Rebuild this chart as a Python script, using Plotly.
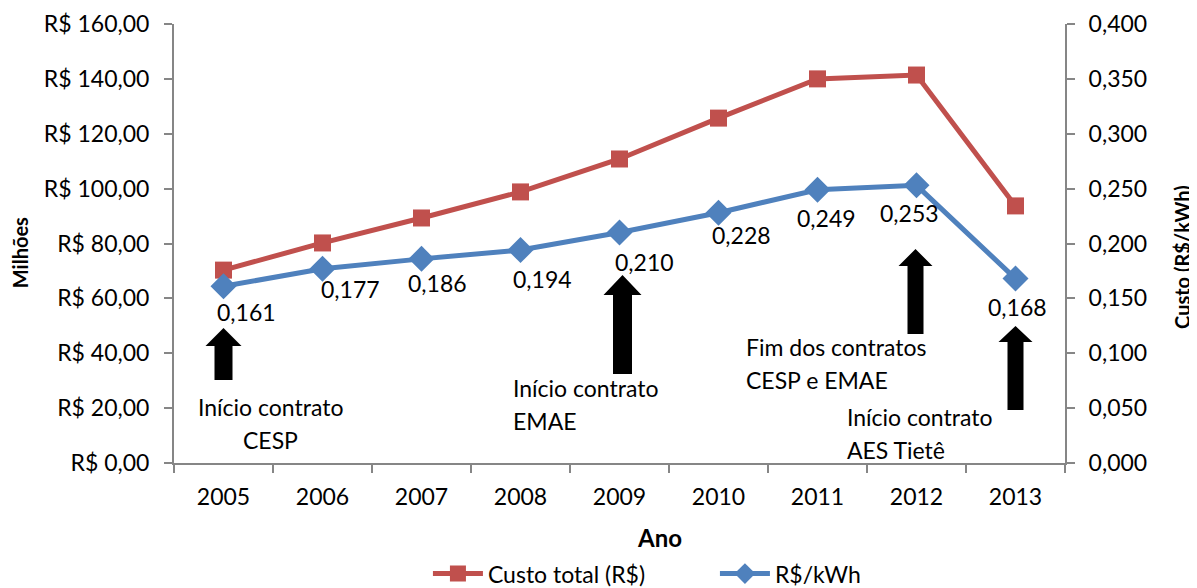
import plotly.graph_objects as go

# ---- data ----
years = ["2005", "2006", "2007", "2008", "2009", "2010", "2011", "2012", "2013"]
custo_total = [70.3, 80.2, 89.3, 98.8, 110.8, 125.7, 140.0, 141.4, 93.7]   # R$ milhões
rs_kwh = [0.161, 0.177, 0.186, 0.194, 0.210, 0.228, 0.249, 0.253, 0.168]    # R$/kWh
left_ticks = [0, 20, 40, 60, 80, 100, 120, 140, 160]
left_ticktext = ["R$ 0,00", "R$ 20,00", "R$ 40,00", "R$ 60,00", "R$ 80,00",
                 "R$ 100,00", "R$ 120,00", "R$ 140,00", "R$ 160,00"]
right_ticks = [0, 0.05, 0.10, 0.15, 0.20, 0.25, 0.30, 0.35, 0.40]
right_ticktext = ["0,000", "0,050", "0,100", "0,150", "0,200", "0,250", "0,300", "0,350", "0,400"]

# ---- styling / layout helpers ----
FONT = "Lato"
RED = "#C0504D"
BLUE = "#4F81BD"
AXIS = "#868686"
xs = list(range(len(years)))

# label pixel shifts (dx, dy downward)
label_shift = [(23, 26), (28, 20), (16, 24), (22, 29), (25, 29), (23, 22), (9, 28), (-7, 28), (2, 28)]

fig = go.Figure()
fig.add_trace(go.Scatter(
    x=xs, y=custo_total, name="Custo total (R$)", mode="lines+markers",
    line=dict(color=RED, width=5), marker=dict(symbol="square", size=17, color=RED),
    yaxis="y"))
fig.add_trace(go.Scatter(
    x=xs, y=rs_kwh, name="R$/kWh", mode="lines+markers",
    line=dict(color=BLUE, width=5), marker=dict(symbol="diamond", size=20, color=BLUE),
    yaxis="y2"))

annotations = []
for i, v in enumerate(rs_kwh):
    dx, dy = label_shift[i]
    annotations.append(dict(
        x=xs[i], y=v, xref="x", yref="y2", text=f"{v:.3f}".replace(".", ","),
        showarrow=False, xshift=dx, yshift=-dy, font=dict(family=FONT, size=23, color="black")))

PX = 160 / 439  # left-axis units per pixel
notes = [
    (0, 47, "center", [("Início contrato", (463 - 407) * PX), ("CESP", (463 - 440) * PX)]),
    (4, -109, "left", [("Início contrato", (463 - 388) * PX), ("EMAE", (463 - 421) * PX)]),
    (7, -173, "left", [("Fim dos contratos", (463 - 347) * PX), ("CESP e EMAE", (463 - 380) * PX)]),
    (8, -171, "left", [("Início contrato", (463 - 417) * PX), ("AES Tietê", (463 - 450) * PX)]),
]
for idx, sh, anc, lines in notes:
    for t, yv in lines:
        annotations.append(dict(
            x=idx, y=yv, xref="x", yref="y", text=t, showarrow=False, xshift=sh,
            xanchor=anc, yanchor="middle", font=dict(family=FONT, size=23, color="black")))

# axis titles
annotations.append(dict(x=-0.173, y=0.48, xref="paper", yref="paper", text="<b>Milhões</b>",
                        textangle=-90, showarrow=False, xanchor="center", yanchor="middle",
                        font=dict(family=FONT, size=20, color="black")))
annotations.append(dict(x=1.1305, y=0.47, xref="paper", yref="paper", text="<b>Custo (R$/kWh)</b>",
                        textangle=-90, showarrow=False, xanchor="center", yanchor="middle",
                        font=dict(family=FONT, size=20, color="black")))
annotations.append(dict(x=0.545, y=-0.17, xref="paper", yref="paper", text="<b>Ano</b>",
                        showarrow=False, xanchor="center", yanchor="middle",
                        font=dict(family=FONT, size=24, color="black")))

# block arrows: (category index, x px shift, bottom value on left axis, height px, head px, head half-width, shaft half-width)
arrows = [
    (0, 0, (463 - 380) * PX, 52, 18, 18, 9),
    (4, 3, (463 - 374) * PX, 99, 20, 19, 9.5),
    (7, -1, (463 - 334) * PX, 85, 17, 17, 8),
    (8, 0, (463 - 410) * PX, 84, 16, 17, 8),
]
shapes = []
for idx, dxp, ybot, h, hl, hw, sw in arrows:
    path = (f"M {dxp - sw} 0 L {dxp + sw} 0 L {dxp + sw} {h - hl} L {dxp + hw} {h - hl} "
            f"L {dxp} {h} L {dxp - hw} {h - hl} L {dxp - sw} {h - hl} Z")
    shapes.append(dict(type="path", xref="x", yref="y", xsizemode="pixel", ysizemode="pixel",
                       xanchor=idx, yanchor=ybot, path=path, fillcolor="black",
                       line=dict(color="black", width=0)))

fig.update_layout(
    width=1189, height=580,
    margin=dict(l=166, r=132, t=16, b=125, autoexpand=False),
    paper_bgcolor="white", plot_bgcolor="white",
    font=dict(family=FONT, size=23, color="black"),
    showlegend=True,
    legend=dict(orientation="h", x=0.285, xanchor="left", y=-0.252, yanchor="middle",
                font=dict(family=FONT, size=23, color="black"), itemwidth=50,
                entrywidth=222, entrywidthmode="pixels",
                traceorder="normal", bgcolor="rgba(0,0,0,0)"),
    xaxis=dict(range=[-0.5, 8.5], tickmode="array", tickvals=xs, ticktext=years,
               ticks="", showgrid=False, zeroline=False, ticklabelstandoff=12,
               showline=True, linecolor=AXIS, linewidth=2,
               tickfont=dict(family=FONT, size=23),
               minor=dict(tickmode="array", tickvals=[i - 0.5 for i in range(len(years) + 1)],
                          ticks="outside", ticklen=8, tickwidth=2, tickcolor=AXIS, showgrid=False)),
    yaxis=dict(range=[0, 160], tickmode="array", tickvals=left_ticks, ticktext=left_ticktext,
               ticks="outside", ticklen=8, tickwidth=2, tickcolor=AXIS, ticklabelstandoff=10,
               showline=True, linecolor=AXIS, linewidth=2, showgrid=False, zeroline=False,
               tickfont=dict(family=FONT, size=23)),
    yaxis2=dict(range=[0, 0.4], overlaying="y", side="right", tickmode="array",
                tickvals=right_ticks, ticktext=right_ticktext,
                ticks="outside", ticklen=8, tickwidth=2, tickcolor=AXIS, ticklabelstandoff=9,
                showline=True, linecolor=AXIS, linewidth=2, showgrid=False, zeroline=False,
                tickfont=dict(family=FONT, size=23)),
    annotations=annotations,
    shapes=shapes,
)

fig.write_html("out.html")
